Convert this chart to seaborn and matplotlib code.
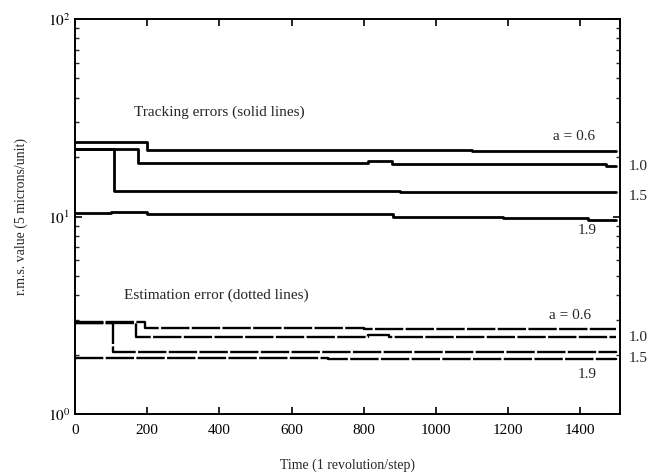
import matplotlib
matplotlib.use("Agg")
import matplotlib.pyplot as plt
import seaborn as sns
import pandas as pd
from matplotlib.ticker import LogLocator, FixedLocator, NullFormatter

# ---- data ----
track_06_t = [0, 200, 700, 1100, 1500]
track_06_v = [23.9, 21.7, 21.6, 21.5, 21.5]
track_10_t = [0, 174, 813, 879, 1470, 1500]
track_10_v = [21.9, 18.6, 19.2, 18.5, 18.1, 18.1]
track_15_t = [0, 107, 900, 1500]
track_15_v = [22.0, 13.4, 13.3, 13.3]
track_19_t = [0, 100, 200, 880, 1185, 1420, 1500]
track_19_v = [10.4, 10.5, 10.3, 10.0, 9.8, 9.65, 9.65]

est_06_t = [0, 195, 800, 1500]
est_06_v = [2.93, 2.72, 2.70, 2.68]
est_10_t = [0, 169, 813, 870, 1500]
est_10_v = [2.90, 2.46, 2.51, 2.46, 2.44]
est_15_t = [0, 105, 1500]
est_15_v = [2.90, 2.06, 2.04]
est_19_t = [0, 700, 1500]
est_19_v = [1.92, 1.89, 1.87]

x_ticks = [0, 200, 400, 600, 800, 1000, 1200, 1400]
y_major = [1, 10, 100]

track_labels = ["a = 0.6", "1.0", "1.5", "1.9"]
est_labels = ["a = 0.6", "1.0", "1.5", "1.9"]

sns.set_style("ticks")
plt.rcParams["font.family"] = ["Liberation Serif", "DejaVu Serif"]
plt.rcParams["mathtext.fontset"] = "stix"

fig = plt.figure(figsize=(6.6, 4.74), dpi=100)
ax = fig.add_axes([75/660, 1-414/474, (620-75)/660, (414-19)/474])

tracking = [(track_06_t, track_06_v), (track_10_t, track_10_v),
            (track_15_t, track_15_v), (track_19_t, track_19_v)]
estimation = [(est_06_t, est_06_v), (est_10_t, est_10_v),
              (est_15_t, est_15_v), (est_19_t, est_19_v)]

for t, v in tracking:
    df = pd.DataFrame({"t": t, "v": v})
    sns.lineplot(data=df, x="t", y="v", ax=ax, color="black", linewidth=2.0,
                 drawstyle="steps-post", estimator=None, sort=False)
for t, v in estimation:
    df = pd.DataFrame({"t": t, "v": v})
    sns.lineplot(data=df, x="t", y="v", ax=ax, color="black", linewidth=1.7,
                 drawstyle="steps-post", estimator=None, sort=False,
                 linestyle=(0, (12, 1.0)))

ax.set_yscale("log")
ax.set_xlim(0, 1510)
ax.set_ylim(1, 100)
ax.xaxis.set_major_locator(FixedLocator(x_ticks))
ax.yaxis.set_major_locator(FixedLocator(y_major))
ax.set_yticklabels([r"$10^{0}$", r"$10^{1}$", r"$10^{2}$"])
ax.yaxis.set_minor_locator(LogLocator(base=10, subs=range(2, 10)))
ax.yaxis.set_minor_formatter(NullFormatter())
ax.tick_params(axis="both", which="major", direction="in", length=5, width=1.2,
               labelsize=11, top=True, right=True, colors="black")
ax.tick_params(axis="x", which="major", pad=7)
ax.tick_params(axis="y", which="minor", direction="in", length=3, width=1.0,
               right=True, left=True)
for s in ax.spines.values():
    s.set_linewidth(1.4)
    s.set_color("black")

ax.set_xlabel("Time (1 revolution/step)", fontsize=10, labelpad=16)
ax.set_ylabel("r.m.s. value (5 microns/unit)", fontsize=10, labelpad=14)

ax.text(163, 33.8, "Tracking errors (solid lines)", fontsize=11, va="center", ha="left")
ax.text(136, 4.0, "Estimation error (dotted lines)", fontsize=11, va="center", ha="left")

track_lab_pos = [(1325, 25.3), (1533, 18.0), (1533, 12.6), (1392, 8.5)]
est_lab_pos = [(1312, 3.17), (1533, 2.43), (1533, 1.92), (1392, 1.59)]
for lab, (x, y) in zip(track_labels, track_lab_pos):
    ax.text(x, y, lab, fontsize=11, va="center", ha="left", clip_on=False)
for lab, (x, y) in zip(est_labels, est_lab_pos):
    ax.text(x, y, lab, fontsize=11, va="center", ha="left", clip_on=False)

fig.savefig("out.png", dpi=100)
